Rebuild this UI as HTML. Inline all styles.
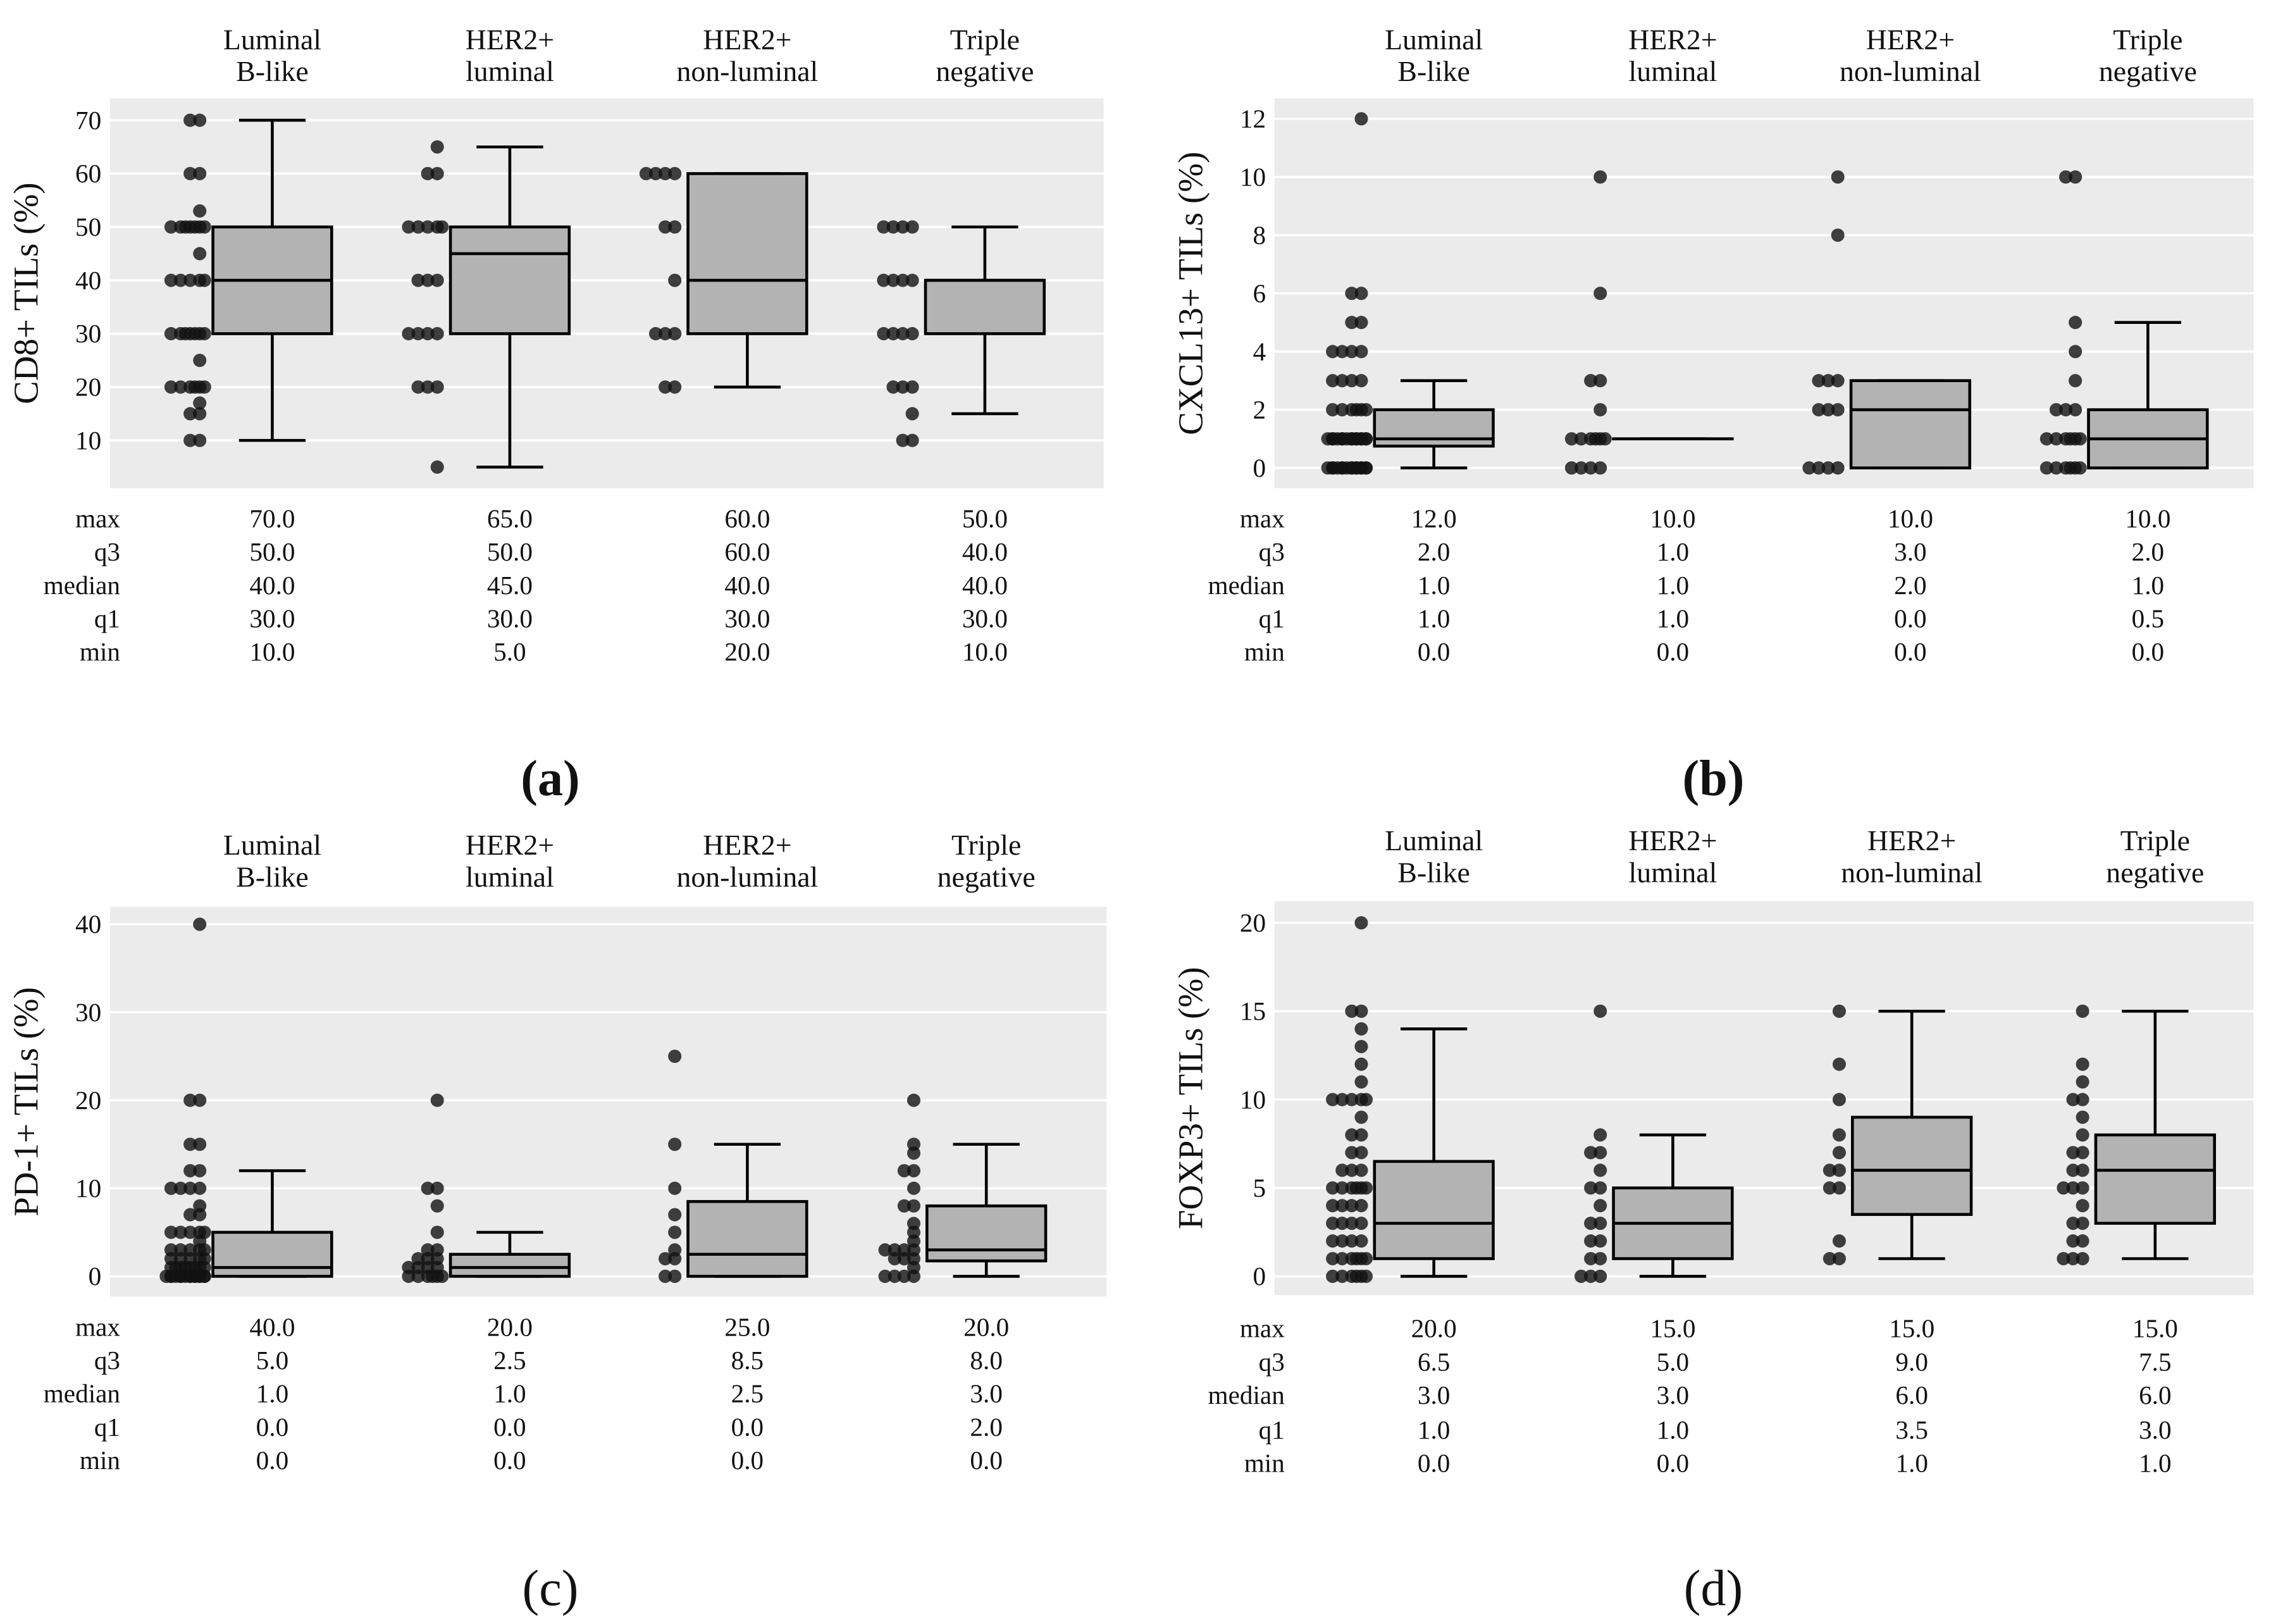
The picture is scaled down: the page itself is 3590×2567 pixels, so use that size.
<!DOCTYPE html>
<html><head><meta charset="utf-8">
<style>html,body{margin:0;padding:0;background:#fff}svg{display:block}text{font-family:"Liberation Serif",serif;fill:#111}</style>
</head><body>
<svg id="fig" width="3590" height="2567" viewBox="0 0 1568 1121" preserveAspectRatio="none" xmlns="http://www.w3.org/2000/svg"></svg>
<script>
const categories = ["Luminal|B-like","HER2+|luminal","HER2+|non-luminal","Triple|negative"];
const statNames = ["max","q3","median","q1","min"];
// Panel A (CD8+)
const aPoints = [
 [70,70,60,60,53,50,50,50,50,50,50,50,45,40,40,40,40,40,30,30,30,30,30,30,30,25,20,20,20,20,20,20,17,15,15,10,10],
 [65,60,60,50,50,50,50,50,40,40,40,30,30,30,30,20,20,20,5],
 [60,60,60,60,50,50,40,30,30,30,20,20],
 [50,50,50,50,40,40,40,40,30,30,30,30,20,20,20,15,10,10]];
const aQ1=[30,30,30,30], aMed=[40,45,40,40], aQ3=[50,50,60,40], aLo=[10,5,20,15], aHi=[70,65,60,50];
const aStats=[["70.0","50.0","40.0","30.0","10.0"],["65.0","50.0","45.0","30.0","5.0"],["60.0","60.0","40.0","30.0","20.0"],["50.0","40.0","40.0","30.0","10.0"]];
const aTicks=[10,20,30,40,50,60,70];
// Panel B (CXCL13+)
const bPoints = [
 [12,6,6,5,5,4,4,4,4,3,3,3,3,2,2,2,2,2,2,1,1,1,1,1,1,1,1,1,1,1,1,1,1,1,0,0,0,0,0,0,0,0,0,0,0,0,0,0,0],
 [10,6,3,3,2,1,1,1,1,1,1,0,0,0,0],
 [10,8,3,3,3,2,2,2,0,0,0,0],
 [10,10,5,4,3,2,2,2,1,1,1,1,1,1,0,0,0,0,0,0]];
const bQ1=[0.75,1,0,0], bMed=[1,1,2,1], bQ3=[2,1,3,2], bLo=[0,1,0,0], bHi=[3,1,3,5];
const bStats=[["12.0","2.0","1.0","1.0","0.0"],["10.0","1.0","1.0","1.0","0.0"],["10.0","3.0","2.0","0.0","0.0"],["10.0","2.0","1.0","0.5","0.0"]];
const bTicks=[0,2,4,6,8,10,12];
// Panel C (PD-1+)
const cPoints = [
 [40,20,20,15,15,12,12,10,10,10,10,8,7,7,5,5,5,5,5,4,3,3,3,3,3,2,2,2,2,2,1,1,1,1,1,1,1,1,0,0,0,0,0,0,0,0,0,0,0,0,0,0,0],
 [20,10,10,8,5,3,3,2,2,2,1,1,1,1,0,0,0,0,0,0],
 [25,15,10,7,5,3,2,2,0,0],
 [20,15,14,12,12,10,8,8,6,5,4,3,3,3,3,2,2,2,1,0,0,0,0]];
const cQ1=[0,0,0,1.75], cMed=[1,1,2.5,3], cQ3=[5,2.5,8.5,8], cLo=[0,0,0,0], cHi=[12,5,15,15];
const cStats=[["40.0","5.0","1.0","0.0","0.0"],["20.0","2.5","1.0","0.0","0.0"],["25.0","8.5","2.5","0.0","0.0"],["20.0","8.0","3.0","2.0","0.0"]];
const cTicks=[0,10,20,30,40];
// Panel D (FOXP3+)
const dPoints = [
 [20,15,15,14,13,12,11,10,10,10,10,10,9,8,8,7,7,6,6,6,5,5,5,5,5,5,4,4,4,4,3,3,3,3,2,2,2,2,1,1,1,1,1,1,0,0,0,0,0,0],
 [15,8,7,7,6,5,5,4,3,3,2,2,1,1,0,0,0],
 [15,12,10,8,7,6,6,5,5,2,1,1],
 [15,12,11,10,10,9,8,7,7,6,6,5,5,5,4,3,3,2,2,1,1,1]];
const dQ1=[1,1,3.5,3], dMed=[3,3,6,6], dQ3=[6.5,5,9,8], dLo=[0,0,1,1], dHi=[14,8,15,15];
const dStats=[["20.0","6.5","3.0","1.0","0.0"],["15.0","5.0","3.0","1.0","0.0"],["15.0","9.0","6.0","3.5","1.0"],["15.0","7.5","6.0","3.0","1.0"]];
const dTicks=[0,5,10,15,20];

const NS="http://www.w3.org/2000/svg";
const svg=document.getElementById('fig');
function mk(tag,attrs,parent){const e=document.createElementNS(NS,tag);for(const k in attrs)e.setAttribute(k,attrs[k]);(parent||svg).appendChild(e);return e;}
function txt(s,x,y,size,anchor,parent,extra){const t=mk('text',Object.assign({x:x,y:y,'font-size':size,'text-anchor':anchor||'middle'},extra||{}),parent);t.textContent=s;return t;}

function panel(cfg){
  const g=mk('g',{});
  
  
  const y=v=>cfg.y0+(v-cfg.v0)*(cfg.y1-cfg.y0)/(cfg.v1-cfg.v0);
  const bg=mk('rect',{x:cfg.px0,y:cfg.py0,width:cfg.px1-cfg.px0,height:cfg.py1-cfg.py0,fill:'#ebebeb'},g);
  
  
  cfg.ticks.forEach(t=>{
    const l=mk('line',{x1:cfg.px0,x2:cfg.px1,y1:y(t),y2:y(t),stroke:'#fff','stroke-width':1.6},g);
    
    
    const tl=txt(String(t),cfg.px0-6,y(t)+6,18,'end',g);
    
    
  });
  const yt=txt(cfg.title,0,0,24,'middle',g,{transform:`translate(${cfg.px0-50},${(cfg.py0+cfg.py1)/2}) rotate(-90)`});
  
  
  categories.forEach((c,i)=>{
    const cx=cfg.cx[i];
    const parts=c.split('|');
    const h=txt(parts[0],cx,cfg.hy,20,'middle',g);
    
    
    const h2=txt(parts[1],cx,cfg.hy+22,20,'middle',g);
    
    
    const hw=41, cap=23;
    const wl=mk('line',{x1:cx,x2:cx,y1:y(cfg.hi[i]),y2:y(cfg.lo[i]),stroke:'#000','stroke-width':2},g);
    
    
    [cfg.hi[i],cfg.lo[i]].forEach(v=>{
      const cp=mk('line',{x1:cx-cap,x2:cx+cap,y1:y(v),y2:y(v),stroke:'#000','stroke-width':2},g);
      
      
    });
    const bx=mk('rect',{x:cx-hw,y:y(cfg.q3[i]),width:2*hw,height:Math.max(0.01,y(cfg.q1[i])-y(cfg.q3[i])),fill:'#b3b3b3',stroke:'#000','stroke-width':2},g);
    
    
    const md=mk('line',{x1:cx-hw,x2:cx+hw,y1:y(cfg.med[i]),y2:y(cfg.med[i]),stroke:'#000','stroke-width':2},g);
    
    
    const counts={};
    cfg.points[i].forEach(v=>{
      const k=counts[v]=(counts[v]||0)+1;
      const off=(((k*7)%9)-4)*3.3;
      const p=mk('circle',{cx:cx-60+off,cy:y(v),r:4.6,fill:'#111','fill-opacity':0.8},g);
      
      
    });
    cfg.stats[i].forEach((s,j)=>{
      const st=txt(s,cx,cfg.sy[j]+6,18,'middle',g);
      
      
    });
  });
  statNames.forEach((s,j)=>{
    const sl=txt(s,cfg.px0+7,cfg.sy[j]+6,18,'end',g);
    
    
  });
  const lab=txt(cfg.label,cfg.lx,cfg.ly,35,'middle',g,cfg.bold?{'font-weight':'bold'}:{});
  
  
}
panel({id:'a',px0:76,px1:762,py0:68,py1:337,v0:10,v1:70,y0:304,y1:83,ticks:aTicks,title:'CD8+ TILs (%)',
  cx:[188,352,516,680],hy:34,points:aPoints,q1:aQ1,med:aMed,q3:aQ3,lo:aLo,hi:aHi,stats:aStats,
  sy:[358,381,404,427,450],label:'(a)',lx:380,ly:549,bold:true});
panel({id:'b',px0:880,px1:1556,py0:68,py1:337,v0:0,v1:12,y0:323,y1:82,ticks:bTicks,title:'CXCL13+ TILs (%)',
  cx:[990,1155,1319,1483],hy:34,points:bPoints,q1:bQ1,med:bMed,q3:bQ3,lo:bLo,hi:bHi,stats:bStats,
  sy:[358,381,404,427,450],label:'(b)',lx:1183,ly:549,bold:true});
panel({id:'c',px0:76,px1:764,py0:626,py1:895,v0:0,v1:40,y0:881,y1:638,ticks:cTicks,title:'PD-1+ TILs (%)',
  cx:[188,352,516,681],hy:590,points:cPoints,q1:cQ1,med:cMed,q3:cQ3,lo:cLo,hi:cHi,stats:cStats,
  sy:[916,939,962,985,1008],label:'(c)',lx:380,ly:1108,bold:false});
panel({id:'d',px0:880,px1:1556,py0:622,py1:894,v0:0,v1:20,y0:881,y1:637,ticks:dTicks,title:'FOXP3+ TILs (%)',
  cx:[990,1155,1320,1488],hy:587,points:dPoints,q1:dQ1,med:dMed,q3:dQ3,lo:dLo,hi:dHi,stats:dStats,
  sy:[917,940,963,987,1010],label:'(d)',lx:1183,ly:1108,bold:false});
</script>
</body></html>
